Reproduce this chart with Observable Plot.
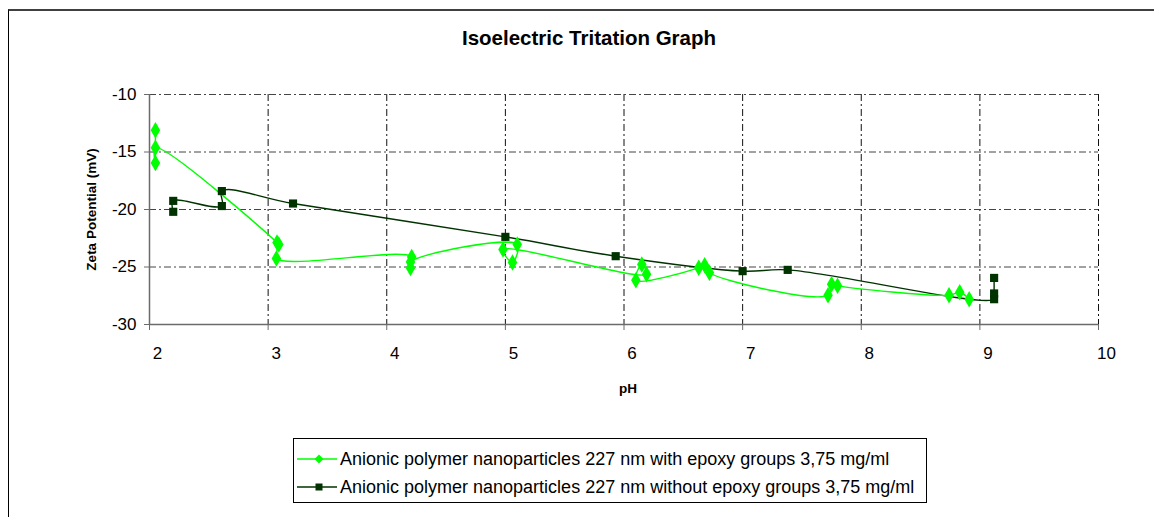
<!DOCTYPE html>
<html><head><meta charset="utf-8">
<script src="https://cdn.jsdelivr.net/npm/d3@7"></script>
<script src="https://cdn.jsdelivr.net/npm/@observablehq/plot@0.6"></script>
<style>
body{margin:0;background:#fff;font-family:"Liberation Sans",Arial,sans-serif;}
#wrap{position:relative;width:1154px;height:517px;overflow:hidden;background:#fff}
#frame{position:absolute;left:8px;top:9px;width:1200px;height:600px;border-top:2px solid #404040;border-left:1px solid #000;}
#title{position:absolute;left:389px;width:400px;top:26px;text-align:center;font-weight:bold;font-size:20.5px;color:#000}
#chart{position:absolute;left:0;top:0}
#legend{position:absolute;left:293px;top:438px;width:634px;height:65px;border:1px solid #000;box-sizing:border-box;background:#fff}
.row{position:absolute;left:3px;height:22px;display:flex;align-items:center;font-size:18px;white-space:nowrap;color:#000}
.row svg{margin-right:3px}
</style>
</head><body>
<div id="wrap">
  <div id="frame"></div>
  <div id="chart"></div>
  <div id="title"></div>
  <div id="legend"></div>
</div>
<script>
const titleText = "Isoelectric Tritation Graph";
const xLabel = "pH";
const yLabel = "Zeta Potential (mV)";
const seriesNames = [
  "Anionic polymer nanoparticles 227 nm with epoxy groups 3,75 mg/ml",
  "Anionic polymer nanoparticles 227 nm without epoxy groups 3,75 mg/ml"
];
const seriesColors = ["#00ff00", "#003300"];
const xTicks = [2, 3, 4, 5, 6, 7, 8, 9, 10];
const yTicks = [-30, -25, -20, -15, -10];

// with epoxy groups (light green diamonds)
const greenPH   = [2.05, 2.05, 2.05, 3.075, 3.09, 3.07, 4.21, 4.2, 4.2, 5.1, 5.06, 4.98, 6.19, 6.15, 6.1, 6.63, 6.68, 6.72, 7.72, 7.75, 7.8, 8.74, 8.83, 8.91];
const greenZeta = [-13.1, -15.95, -14.64, -22.87, -23.04, -24.26, -24.12, -25.08, -24.56, -23.04, -24.6, -23.48, -25.63, -24.78, -26.15, -25.07, -24.84, -25.5, -27.45, -26.5, -26.64, -27.45, -27.2, -27.8];

// without epoxy groups (dark green squares)
const darkPH   = [2.2, 2.2, 2.61, 2.61, 3.21, 5.0, 5.93, 7.0, 7.38, 9.12, 9.12, 9.12];
const darkZeta = [-20.2, -19.25, -19.7, -18.4, -19.48, -22.38, -24.06, -25.36, -25.25, -27.8, -27.3, -25.95];

const green = greenPH.map((x, i) => ({pH: x, zeta: greenZeta[i]}));
const dark = darkPH.map((x, i) => ({pH: x, zeta: darkZeta[i]}));

document.getElementById("title").textContent = titleText;

const dash = "7,3,2,3";
const chart = Plot.plot({
  width: 1154,
  height: 517,
  marginLeft: 149,
  marginRight: 56,
  marginTop: 94,
  marginBottom: 193,
  style: {fontFamily: "'Liberation Sans', Arial, sans-serif", fontSize: "17px", color: "#000", background: "transparent"},
  x: {domain: [2, 10]},
  y: {domain: [-30, -10]},
  marks: [
    Plot.ruleX(xTicks.filter(d => d > 2), {stroke: "#111", strokeDasharray: dash, strokeWidth: 1}),
    Plot.ruleY(yTicks.filter(d => d > -30), {stroke: "#444", strokeDasharray: dash, strokeWidth: 1}),
    Plot.ruleX([2], {stroke: "#6b6b6b", strokeWidth: 1.5}),
    Plot.ruleY([-30], {stroke: "#6b6b6b", strokeWidth: 1.5}),
    Plot.axisX({ticks: xTicks, tickSize: 6, tickFormat: () => "", stroke: "#6b6b6b", label: null}),
    Plot.axisX({ticks: xTicks, tickSize: 0, tickPadding: 22, dx: 8, label: null, fill: "#000", tickFormat: d => String(d)}),
    Plot.axisY({ticks: yTicks, tickSize: 5, tickPadding: 8, stroke: "#6b6b6b", label: null, fill: "#000", tickFormat: d => String(d)}),
    Plot.line(dark, {x: "pH", y: "zeta", curve: "catmull-rom", stroke: seriesColors[1], strokeWidth: 1.4}),
    Plot.line(green, {x: "pH", y: "zeta", curve: "catmull-rom", stroke: seriesColors[0], strokeWidth: 1.4}),
    Plot.dot(dark, {x: "pH", y: "zeta", symbol: "square", r: 4.6, fill: seriesColors[1], stroke: "none"}),
    Plot.dot(green, {x: "pH", y: "zeta", symbol: "diamond", r: 5, fill: seriesColors[0], stroke: "none"}),
    Plot.text([yLabel], {text: d => d, frameAnchor: "left", textAnchor: "middle", dx: -58, rotate: -90, fontWeight: "bold", fontSize: 13.5, fill: "#000"}),
    Plot.text([xLabel], {text: d => d, frameAnchor: "bottom", textAnchor: "middle", dx: 4, dy: 68, fontWeight: "bold", fontSize: 13.5, fill: "#000"})
  ]
});
document.getElementById("chart").appendChild(chart);

// legend
const legend = document.getElementById("legend");
const symbols = ["diamond", "square"];
const rowTops = [9, 37];
seriesNames.forEach((name, i) => {
  const row = document.createElement("div");
  row.className = "row";
  row.style.top = rowTops[i] + "px";
  const sym = symbols[i] === "diamond"
    ? `<path d="M22,1.5 L26.5,6 L22,10.5 L17.5,6 Z" fill="${seriesColors[i]}"/>`
    : `<rect x="18.5" y="2.5" width="7" height="7" fill="${seriesColors[i]}"/>`;
  row.innerHTML = `<svg width="40" height="12"><line x1="0" x2="40" y1="6" y2="6" stroke="${seriesColors[i]}" stroke-width="1.4"/>${sym}</svg><span>${name}</span>`;
  legend.appendChild(row);
});
</script>
</body></html>
